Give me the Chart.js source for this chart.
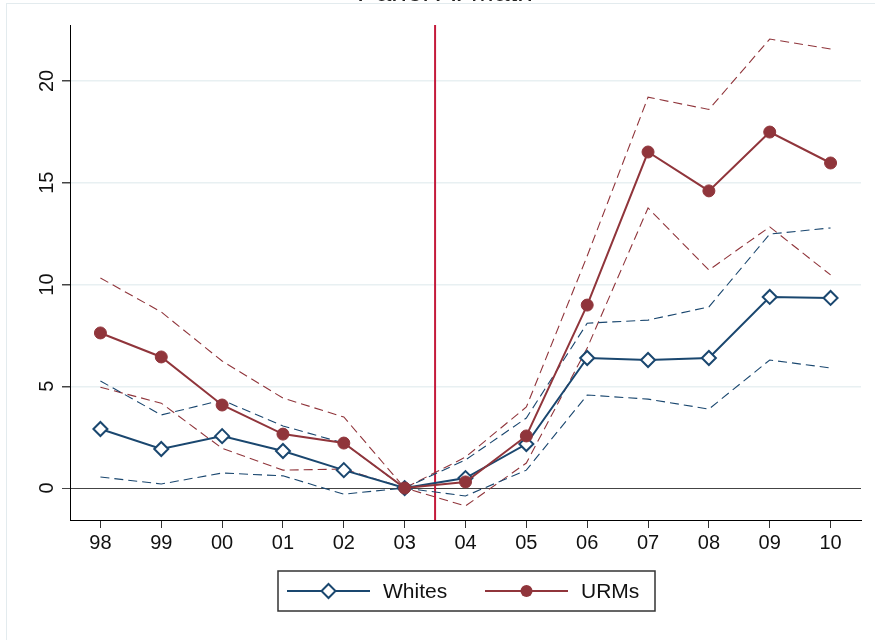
<!DOCTYPE html>
<html>
<head>
<meta charset="utf-8">
<script src="https://cdn.jsdelivr.net/npm/chart.js@4.4.1/dist/chart.umd.min.js"></script>
<style>
  html, body { margin: 0; padding: 0; background: #fff; }
  #wrap { width: 875px; height: 640px; }
</style>
</head>
<body>
<div id="wrap"><canvas id="grafico" width="875" height="640"></canvas></div>
<script>
// Data
const years = ["98", "99", "00", "01", "02", "03", "04", "05", "06", "07", "08", "09", "10"];
const whites   = [2.90, 1.92, 2.55, 1.82, 0.88, 0, 0.49, 2.16, 6.39, 6.29, 6.39, 9.39, 9.34];
const whitesHi = [5.26, 3.59, 4.32, 3.05, 2.21, 0, 1.38, 3.44, 8.10, 8.25, 8.90, 12.48, 12.78];
const whitesLo = [0.54, 0.20, 0.74, 0.60, -0.30, 0, -0.39, 0.88, 4.57, 4.37, 3.88, 6.29, 5.90];
const urms     = [7.62, 6.44, 4.08, 2.65, 2.21, 0, 0.30, 2.56, 8.99, 16.51, 14.60, 17.49, 15.97];
const urmsHi   = [10.32, 8.65, 6.24, 4.42, 3.49, 0, 1.52, 3.98, 11.40, 19.20, 18.60, 22.06, 21.57];
const urmsLo   = [4.95, 4.17, 1.95, 0.88, 0.93, 0, -0.88, 1.23, 6.88, 13.76, 10.71, 12.83, 10.47];
const yTicks = [0, 5, 10, 15, 20];
const lineAt = 5.5; // between 03 and 04

const navy = "#1a476f";
const maroon = "#90353b";

function dashed(data, color) {
  return {
    data: data,
    borderColor: color,
    borderWidth: 1.1,
    borderDash: [9, 5],
    pointRadius: 0,
    fill: false,
    order: 5,
    isCI: true
  };
}

const decor = {
  id: "decor",
  beforeDraw(chart) {
    const ctx = chart.ctx;
    ctx.save();
    // outer frame (only top/left visible)
    ctx.strokeStyle = "#e3ebee";
    ctx.lineWidth = 1;
    ctx.strokeRect(6.5, 3.5, 1000, 1000);
    // title, cut off by the top edge
    ctx.fillStyle = "#222";
    ctx.font = "28px 'Liberation Sans', Arial, sans-serif";
    ctx.textAlign = "center";
    ctx.textBaseline = "alphabetic";
    ctx.fillText("Panel A: Math", 445, 1);
    ctx.restore();
  },
  beforeDatasetsDraw(chart) {
    const ctx = chart.ctx;
    const a = chart.chartArea;
    const x = chart.scales.x.getPixelForValue(lineAt);
    ctx.save();
    ctx.strokeStyle = "#c41a3b";
    ctx.lineWidth = 2;
    ctx.beginPath();
    ctx.moveTo(x, a.top);
    ctx.lineTo(x, a.bottom);
    ctx.stroke();
    ctx.restore();
  },
  afterDraw(chart) {
    const ctx = chart.ctx;
    ctx.save();
    ctx.strokeStyle = "#333";
    ctx.lineWidth = 1.5;
    ctx.strokeRect(278, 571, 377, 40);
    const items = chart.data.datasets.filter(d => !d.isCI);
    const starts = [287, 485];
    items.forEach((d, i) => {
      const x0 = starts[i];
      const y = 591;
      ctx.strokeStyle = d.borderColor;
      ctx.lineWidth = 2;
      ctx.beginPath();
      ctx.moveTo(x0, y);
      ctx.lineTo(x0 + 83, y);
      ctx.stroke();
      const cx = x0 + 41.5;
      ctx.beginPath();
      if (d.pointStyle === "rectRot") {
        const r = d.pointRadius;
        ctx.moveTo(cx, y - r);
        ctx.lineTo(cx + r, y);
        ctx.lineTo(cx, y + r);
        ctx.lineTo(cx - r, y);
        ctx.closePath();
        ctx.fillStyle = "#fff";
        ctx.fill();
        ctx.lineWidth = d.pointBorderWidth;
        ctx.stroke();
      } else {
        ctx.arc(cx, y, d.pointRadius, 0, Math.PI * 2);
        ctx.fillStyle = d.borderColor;
        ctx.fill();
      }
      ctx.fillStyle = "#111";
      ctx.font = "21px 'Liberation Sans', Arial, sans-serif";
      ctx.textAlign = "left";
      ctx.textBaseline = "middle";
      ctx.fillText(d.label, x0 + 96, y + 1);
    });
    ctx.restore();
  }
};

new Chart(document.getElementById("grafico"), {
  type: "line",
  data: {
    labels: years,
    datasets: [
      {
        label: "Whites",
        data: whites,
        borderColor: navy,
        backgroundColor: "#fff",
        borderWidth: 2,
        pointStyle: "rectRot",
        pointRadius: 7,
        pointBorderWidth: 2,
        pointBackgroundColor: "#fff",
        order: 2
      },
      {
        label: "URMs",
        data: urms,
        borderColor: maroon,
        backgroundColor: maroon,
        borderWidth: 2,
        pointStyle: "circle",
        pointRadius: 6,
        pointBorderWidth: 1,
        pointBackgroundColor: maroon,
        order: 1
      },
      dashed(whitesHi, navy),
      dashed(whitesLo, navy),
      dashed(urmsHi, maroon),
      dashed(urmsLo, maroon)
    ]
  },
  options: {
    responsive: false,
    animation: false,
    layout: { padding: { top: 25, right: 14, bottom: 80, left: 0 } },
    plugins: {
      legend: { display: false },
      tooltip: { enabled: false },
      title: { display: false }
    },
    scales: {
      x: {
        type: "category",
        offset: true,
        afterFit(scale) { scale.height = 40; },
        border: { color: "#000", width: 1 },
        grid: { drawOnChartArea: false, drawTicks: true, tickLength: 8, tickColor: "#333", offset: false },
        ticks: {
          autoSkip: false,
          maxRotation: 0,
          padding: 3,
          color: "#111",
          font: { family: "'Liberation Sans', Arial, sans-serif", size: 20 }
        }
      },
      y: {
        min: -1.57,
        max: 22.75,
        afterFit(scale) { scale.width = 70; },
        afterBuildTicks(scale) { scale.ticks = yTicks.map(v => ({ value: v })); },
        border: { color: "#000", width: 1 },
        grid: {
          color: c => (c.tick && c.tick.value === 0 ? "#444" : "#e8f0f2"),
          lineWidth: c => (c.tick && c.tick.value === 0 ? 1 : 1.5),
          tickLength: 8,
          tickColor: "#444"
        },
        ticks: {
          minRotation: 90,
          maxRotation: 90,
          crossAlign: "center",
          padding: 3,
          color: "#111",
          font: { family: "'Liberation Sans', Arial, sans-serif", size: 20 }
        }
      }
    }
  },
  plugins: [decor]
});
</script>
</body>
</html>
